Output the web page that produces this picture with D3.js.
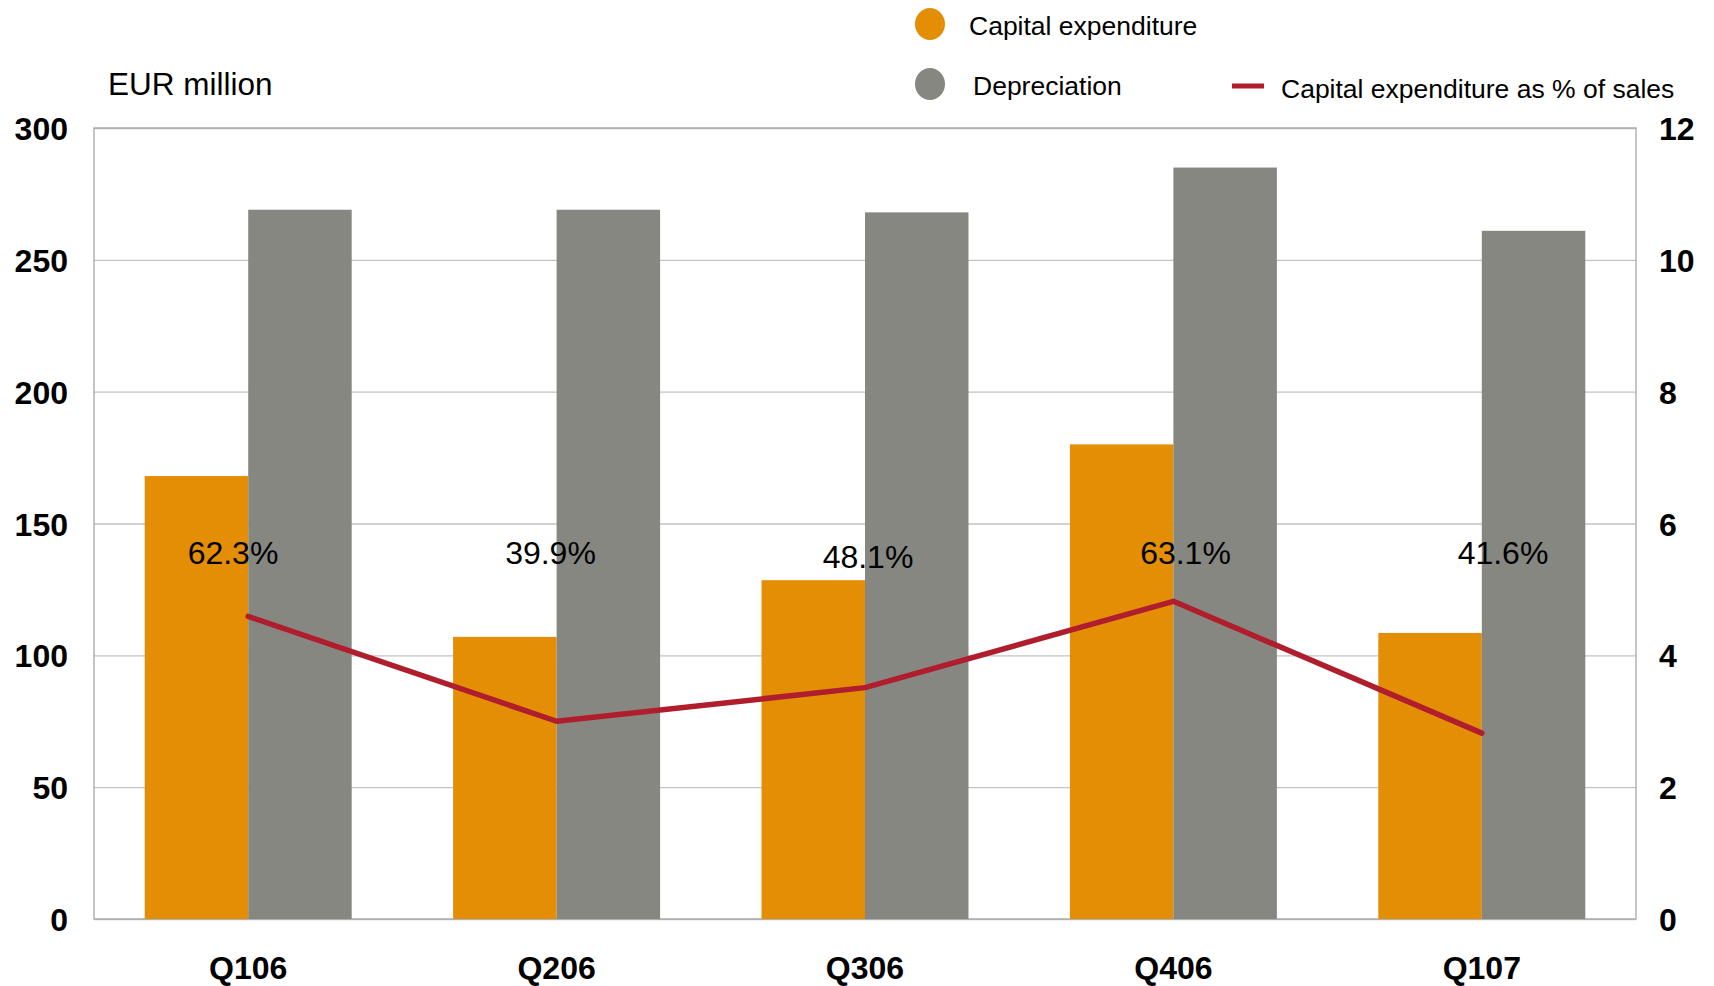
<!DOCTYPE html>
<html>
<head>
<meta charset="utf-8">
<script src="https://cdn.jsdelivr.net/npm/d3@7"></script>
<style>
  body { margin: 0; background: #fff; }
  text { font-family: "Liberation Sans", Arial, sans-serif; fill: #000; }
</style>
</head>
<body>
<div id="chart"></div>
<script>
// data
var quarters = ["Q106", "Q206", "Q306", "Q406", "Q107"];
var capex = [168, 107, 128.5, 180, 108.5];
var depreciation = [269, 269, 268, 285, 261];
var capexPctSales = [4.59, 3.0, 3.51, 4.82, 2.82];
var pctLabels = ["62.3%", "39.9%", "48.1%", "63.1%", "41.6%"];
var leftTicks = [0, 50, 100, 150, 200, 250, 300];
var rightTicks = [0, 2, 4, 6, 8, 10, 12];

var W = 1714, H = 986;
var margin = {top: 128, right: 78, bottom: 67, left: 94},
    width = W - margin.left - margin.right,
    height = H - margin.top - margin.bottom;

var svg = d3.select("#chart").append("svg")
    .attr("width", W).attr("height", H)
  .append("g")
    .attr("transform", "translate(" + margin.left + "," + margin.top + ")");

var x0 = d3.scaleBand().domain(quarters).range([0, width]).padding(0);
var x1 = d3.scaleBand().domain(["capex", "dep"]).range([0, x0.bandwidth()])
    .paddingInner(0).paddingOuter(0.49);
var y = d3.scaleLinear().domain([0, 300]).range([height, 0]);
var y2 = d3.scaleLinear().domain([0, 12]).range([height, 0]);
// percentage labels sit on their own slightly wider spacing
var xLab = d3.scalePoint().domain(quarters).range([139, 1409]);

// gridlines
svg.append("g")
  .call(d3.axisLeft(y).tickValues(leftTicks).tickSize(-width).tickFormat(""))
  .call(function(g) { g.select(".domain").remove(); })
  .selectAll("line").attr("stroke", "#c3c3c3").attr("stroke-width", 1.3);

// plot frame
svg.append("rect")
  .attr("width", width).attr("height", height)
  .attr("fill", "none").attr("stroke", "#a6a6a6").attr("stroke-width", 1.3);

var colors = {capex: "#e38e05", dep: "#878782"};

var groups = svg.selectAll(".grp")
  .data(quarters)
  .enter().append("g")
    .attr("transform", function(d) { return "translate(" + x0(d) + ",0)"; });

groups.selectAll("rect")
  .data(function(d, i) { return [{k: "capex", v: capex[i]}, {k: "dep", v: depreciation[i]}]; })
  .enter().append("rect")
    .attr("x", function(d) { return x1(d.k); })
    .attr("y", function(d) { return y(d.v); })
    .attr("width", x1.bandwidth())
    .attr("height", function(d) { return height - y(d.v); })
    .attr("fill", function(d) { return colors[d.k]; });

// line on the right axis
var line = d3.line()
  .x(function(d, i) { return x0(quarters[i]) + x0.bandwidth() / 2; })
  .y(function(d) { return y2(d); });

svg.append("path")
  .datum(capexPctSales)
  .attr("d", line)
  .attr("fill", "none")
  .attr("stroke", "#b01e2e")
  .attr("stroke-width", 5.5)
  .attr("stroke-linejoin", "round")
  .attr("stroke-linecap", "round");

// percent labels
svg.selectAll(".pct")
  .data(pctLabels)
  .enter().append("text")
    .attr("x", function(d, i) { return xLab(quarters[i]); })
    .attr("y", function(d, i) { return i == 2 ? 440 : 436; })
    .attr("text-anchor", "middle")
    .style("font-size", "32px")
    .text(function(d) { return d; });

// left axis
svg.append("g")
  .call(d3.axisLeft(y).tickValues(leftTicks).tickSize(0).tickPadding(26))
  .call(function(g) { g.select(".domain").remove(); })
  .selectAll("text")
    .style("font-size", "32px").style("font-weight", "bold")
    .attr("dy", "0.36em");

// right axis
svg.append("g")
  .attr("transform", "translate(" + width + ",0)")
  .call(d3.axisRight(y2).tickValues(rightTicks).tickSize(0).tickPadding(23))
  .call(function(g) { g.select(".domain").remove(); })
  .selectAll("text")
    .style("font-size", "32px").style("font-weight", "bold")
    .attr("dy", "0.36em");

// bottom axis
svg.append("g")
  .attr("transform", "translate(0," + height + ")")
  .call(d3.axisBottom(x0).tickSize(0).tickPadding(37))
  .call(function(g) { g.select(".domain").remove(); })
  .selectAll("text")
    .style("font-size", "32px").style("font-weight", "bold");

// axis title
svg.append("text")
  .attr("x", 14).attr("y", -33)
  .style("font-size", "31.5px")
  .text("EUR million");

// legend
var legend = svg.append("g").attr("transform", "translate(" + (-margin.left) + "," + (-margin.top) + ")");
legend.append("ellipse").attr("cx", 930).attr("cy", 24).attr("rx", 15).attr("ry", 16).attr("fill", colors.capex);
legend.append("text").attr("x", 969).attr("y", 35).style("font-size", "26.5px").text("Capital expenditure");
legend.append("ellipse").attr("cx", 930).attr("cy", 84).attr("rx", 15).attr("ry", 16).attr("fill", colors.dep);
legend.append("text").attr("x", 973).attr("y", 95).style("font-size", "26.5px").text("Depreciation");
legend.append("line").attr("x1", 1232).attr("x2", 1264).attr("y1", 86).attr("y2", 86)
  .attr("stroke", "#b01e2e").attr("stroke-width", 5);
legend.append("text").attr("x", 1281).attr("y", 98).style("font-size", "26.5px").text("Capital expenditure as % of sales");
</script>
</body>
</html>
